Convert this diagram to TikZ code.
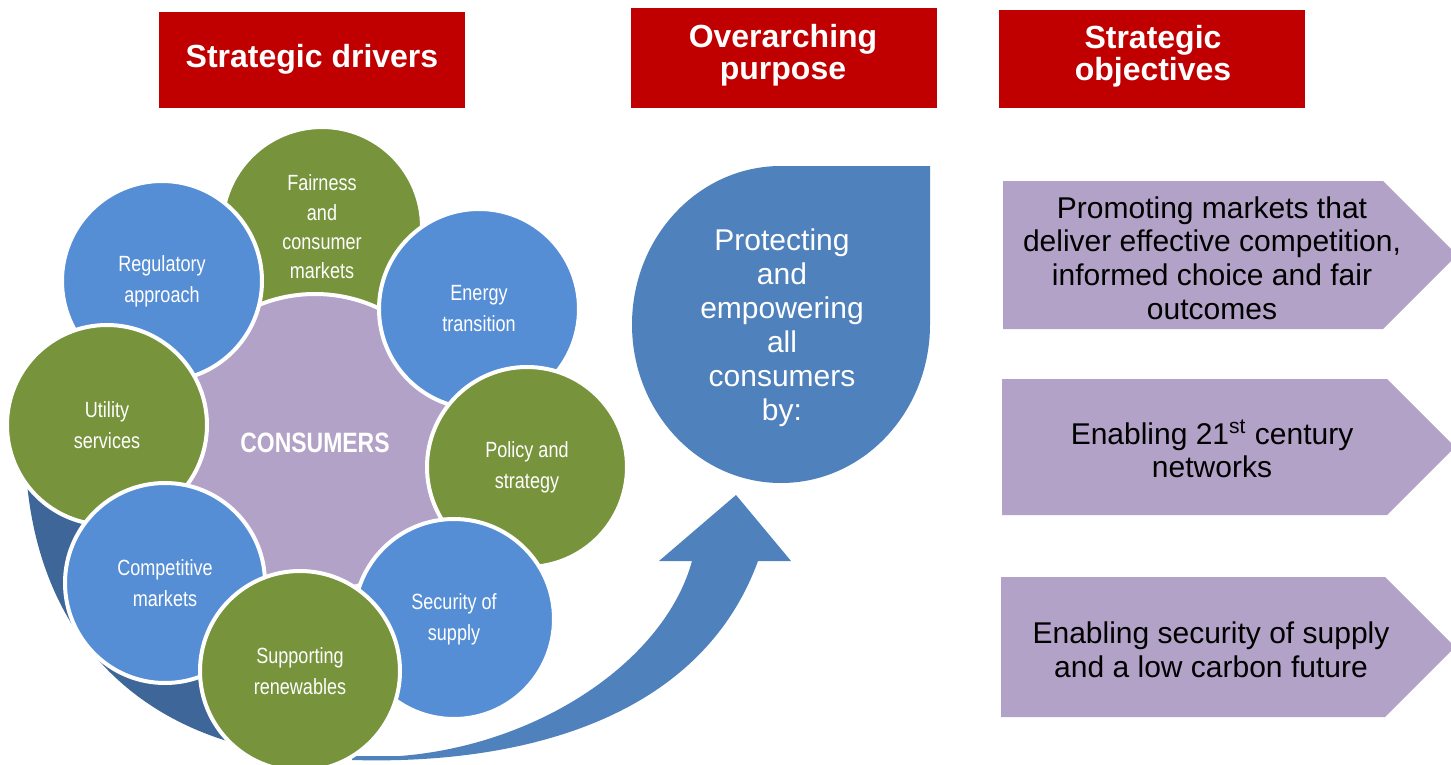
\documentclass[tikz,border=0pt]{standalone}
\usepackage{fontspec}
\setmainfont{Liberation Sans}
\newfontfamily\narrowfont[FakeStretch=0.82]{Liberation Sans}
\definecolor{hdrred}{HTML}{C00000}
\definecolor{petalgreen}{HTML}{77933C}
\definecolor{petalblue}{HTML}{558ED5}
\definecolor{lilac}{HTML}{B3A2C7}
\definecolor{dropblue}{HTML}{4F81BD}
\definecolor{arrowdark}{HTML}{3F6698}
\tikzset{
    petal/.style={circle, draw=white, line width=2pt, minimum size=100pt, inner sep=0pt,
        text=white, align=center, font=\narrowfont\fontsize{11}{15.5}\selectfont},
    headtext/.style={text=white, align=center, font=\bfseries\fontsize{16}{16}\selectfont},
    goal/.style={align=center, font=\fontsize{15}{16.8}\selectfont},
}
\begin{document}
\begin{tikzpicture}[x=0.5pt, y=-0.5pt]
    \useasboundingbox (0,0) rectangle (1451,765);
    \fill[hdrred] (159,12) rectangle (465,108);
    \fill[hdrred] (631,8) rectangle (937,108);
    \fill[hdrred] (999,10) rectangle (1305,108);
    \node[headtext] (drivers) at (312,59) {Strategic drivers};
    \node[headtext] (purpose) at (783,55) {Overarching\\purpose};
    \node[headtext] (objectives) at (1153,56) {Strategic\\objectives};

    \fill[arrowdark] (25,440) .. controls (25,650) and (160,760) .. (352,758) -- (330,735) -- (250,700) -- (130,600) -- (100,500) -- cycle;
    \fill[dropblue] (352,760) .. controls (520,765) and (700,720) .. (758,561) -- (791,561) -- (736,495) -- (659,561) -- (692,561)
        .. controls (665,660) and (540,745) .. (400,756) -- (352,756) -- cycle;
    \fill[dropblue] (930,166) -- (930,324.5) arc[start angle=0, end angle=270, x radius=149, y radius=158.5] -- cycle;
    \node[text=white, align=center, font=\fontsize{15}{17}\selectfont] (protecting) at (782,328) {Protecting\\and\\empowering\\all\\consumers\\by:};

    \node[petal, fill=petalgreen, font=\narrowfont\fontsize{11}{14.7}\selectfont] (fairness) at (322,227) {Fairness\\and\\consumer\\markets};
    \node[petal, fill=lilac, minimum size=149pt] (consumers) at (315,443) {\bfseries\fontsize{14}{16}\selectfont CONSUMERS};
    \node[petal, fill=petalblue] (regulatory) at (162,281) {Regulatory\\approach};
    \node[petal, fill=petalblue] (energy) at (479,309) {Energy\\transition};
    \node[petal, fill=petalgreen] (utility) at (107,425) {Utility\\services};
    \node[petal, fill=petalgreen] (policy) at (527,467) {Policy and\\strategy};
    \node[petal, fill=petalblue] (competitive) at (165,583) {Competitive\\markets};
    \node[petal, fill=petalblue] (security) at (454,619) {Security of\\supply};
    \node[petal, fill=petalgreen] (renewables) at (300,671) {Supporting\\renewables};

    \fill[lilac] (1003,181) -- (1383,181) -- (1457,255) -- (1383,329) -- (1003,329) -- cycle;
    \fill[lilac] (1002,379) -- (1387,379) -- (1455,447) -- (1387,515) -- (1002,515) -- cycle;
    \fill[lilac] (1001,577) -- (1385,577) -- (1455,647) -- (1385,717) -- (1001,717) -- cycle;
    \node[goal] (markets) at (1212,258) {Promoting markets that\\deliver effective competition,\\informed choice and fair\\outcomes};
    \node[goal] (networks) at (1212,449) {Enabling 21\textsuperscript{st} century\\networks};
    \node[goal] (lowcarbon) at (1211,650) {Enabling security of supply\\and a low carbon future};
\end{tikzpicture}
\end{document}
